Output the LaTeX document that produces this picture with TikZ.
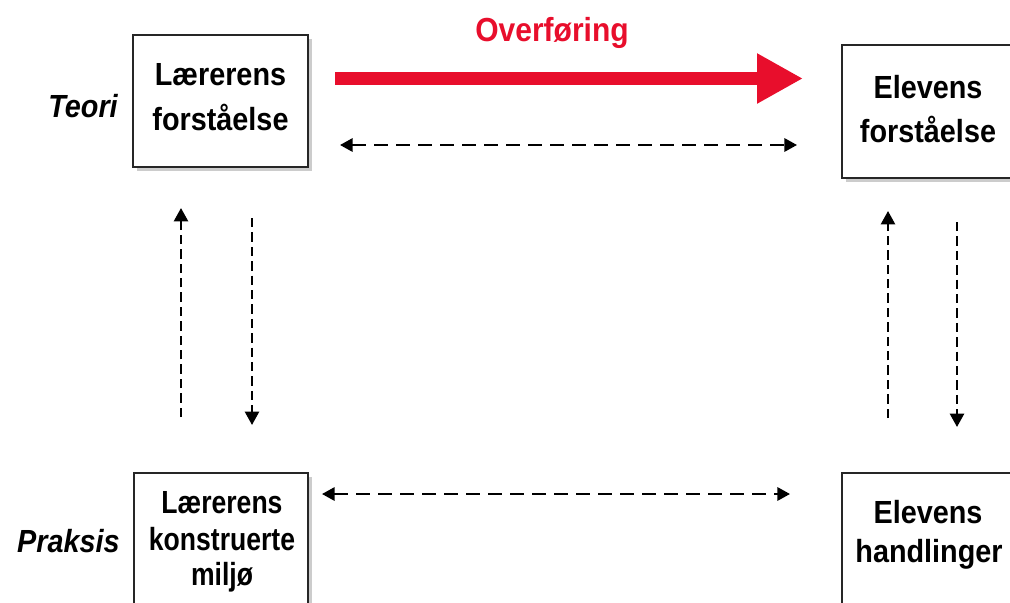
\documentclass[tikz,border=0pt]{standalone}
\usepackage{fontspec}
\newfontfamily\cf[FakeStretch=0.9]{Liberation Sans}
\newfontfamily\cfn[FakeStretch=0.83]{Liberation Sans}
\usetikzlibrary{arrows.meta,shadows}
\definecolor{ovred}{RGB}{232,14,44}
\begin{document}
\begin{tikzpicture}[x=0.75pt,y=-0.75pt,
  box/.style={draw=black!85,line width=1.4pt,fill=white,
    drop shadow={shadow xshift=3pt,shadow yshift=-3pt,opacity=0.2,fill=black},
    minimum width=#1, inner sep=0pt},
  btxt/.style={font=\cf\bfseries\fontsize{24}{28}\selectfont,anchor=base,inner sep=0pt},
  ntxt/.style={font=\cfn\bfseries\fontsize{24}{28}\selectfont,anchor=base,inner sep=0pt},
  side/.style={font=\cf\bfseries\itshape\fontsize{24}{28}\selectfont,anchor=base east,inner sep=0pt},
  hdash/.style={line width=1.7pt,dash pattern=on 10.5pt off 6pt,{Triangle[length=9.5pt,width=10pt]}-{Triangle[length=9.5pt,width=10pt]}},
  vdash/.style={line width=1.8pt,dash pattern=on 7pt off 3.8pt,-{Triangle[length=10pt,width=10.5pt]}}
]
\useasboundingbox (0,0) rectangle (1010,603);
% boxes
\node[box=131.25pt,minimum height=99pt] (lf) at (220.5,101) {};
\node[box=129pt,minimum height=99.75pt] (ef) at (928,111.5) {};
\node[box=130.5pt,minimum height=130.5pt] (lk) at (221,560) {};
\node[box=129pt,minimum height=130.5pt] (eh) at (928,560) {};
% box texts
\node[btxt] (lf1) at (220.5,85) {Lærerens};
\node[btxt] (lf2) at (220.5,130) {forståelse};
\node[btxt] (ef1) at (928,98) {Elevens};
\node[btxt] (ef2) at (928,142) {forståelse};
\node[ntxt] (lk1) at (222,513) {Lærerens};
\node[ntxt] (lk2) at (222,550) {konstruerte};
\node[ntxt] (lk3) at (222,585) {miljø};
\node[btxt] (eh1) at (928,523) {Elevens};
\node[btxt] (eh2) at (929,562) {handlinger};
% side labels
\node[side] (teori) at (118,117) {Teori};
\node[side] (praksis) at (120,552) {Praksis};
% title
\node[font=\cf\bfseries\fontsize{25}{28}\selectfont,text=ovred,inner sep=0pt] (ov) at (552,33) {Overføring};
% coordinates
\coordinate (r1) at (335,78.5);
\coordinate (r2) at (803,78.5);
\coordinate (t1) at (340,145);
\coordinate (t2) at (797,145);
\coordinate (b1) at (322,494);
\coordinate (b2) at (790,494);
\coordinate (lu1) at (181,417);
\coordinate (lu2) at (181,208);
\coordinate (ld1) at (252,218);
\coordinate (ld2) at (252,425);
\coordinate (ru1) at (888,418);
\coordinate (ru2) at (888,211);
\coordinate (rd1) at (957,222);
\coordinate (rd2) at (957,427);
% red arrow
\draw[ovred,line width=9.75pt,-{Triangle[length=34.5pt,width=35.25pt]}] (r1) -- (r2);
% dashed arrows
\draw[hdash] (t1) -- (t2);
\draw[hdash] (b1) -- (b2);
\draw[vdash] (lu1) -- (lu2);
\draw[vdash] (ld1) -- (ld2);
\draw[vdash] (ru1) -- (ru2);
\draw[vdash] (rd1) -- (rd2);
\end{tikzpicture}
\end{document}
